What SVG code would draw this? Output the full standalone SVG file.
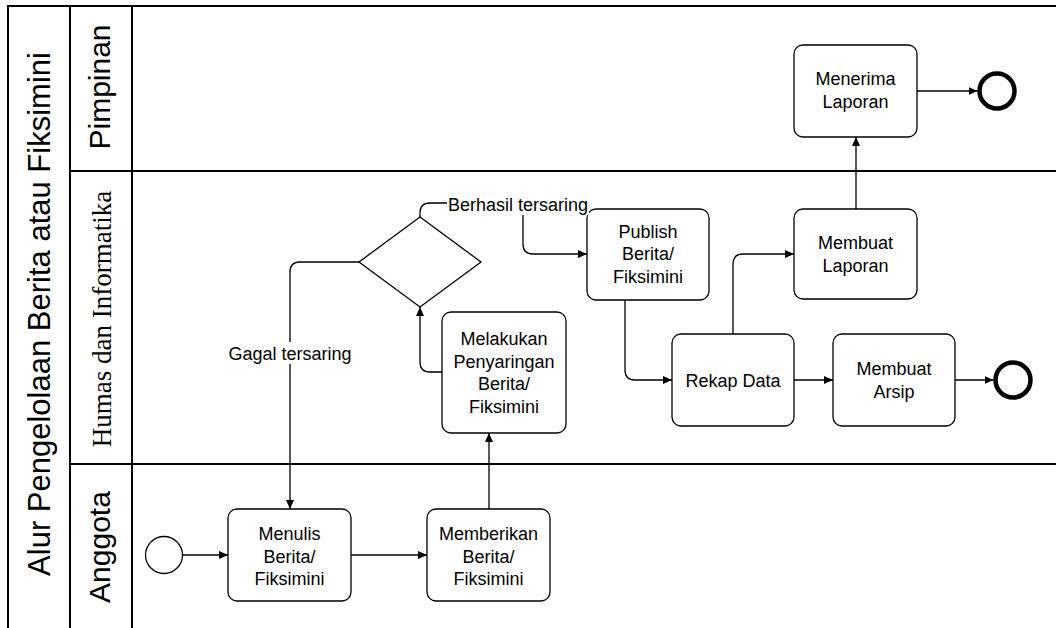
<svg xmlns="http://www.w3.org/2000/svg" width="1056" height="628" viewBox="0 0 1056 628">
  <style>
    .lane { stroke: #000; stroke-width: 2; fill: none; }
    .task { fill: #fff; stroke: #000; stroke-width: 1.3; }
    .t { font-family: "Liberation Sans", Arial, sans-serif; font-size: 18px; fill: #000; text-anchor: middle; }
    .big { font-family: "Liberation Sans", Arial, sans-serif; font-size: 30px; fill: #000; text-anchor: middle; }
    .title { font-size: 31px; }
    .serif { font-family: "Liberation Serif", "Times New Roman", serif; font-size: 27px; fill: #000; text-anchor: middle; }
    .edge { fill: none; stroke: #000; stroke-width: 1.3; marker-end: url(#arr); }
    .lbl { fill: #fff; }
  </style>
  <defs>
    <marker id="arr" markerUnits="userSpaceOnUse" markerWidth="9" markerHeight="9" viewBox="0 0 9 9" refX="9" refY="4.5" orient="auto">
      <path d="M0,0.5 L9,4.5 L0,8.5 z" fill="#000"/>
    </marker>
  </defs>

  <rect width="1056" height="628" fill="#fff"/>

  <!-- pool and lanes -->
  <g id="pool">
    <path class="lane" d="M8,628 V6 H1056"/>
    <path class="lane" d="M70,6 V628 M132,6 V628"/>
    <path class="lane" d="M70,171 H1056 M70,464 H1056"/>
    <text class="big title" transform="translate(49.5,314) rotate(-90)">Alur Pengelolaan Berita atau Fiksimini</text>
    <text class="big" transform="translate(110,87) rotate(-90)">Pimpinan</text>
    <text class="serif" transform="translate(111,319) rotate(-90)">Humas dan Informatika</text>
    <text class="big" transform="translate(110,547) rotate(-90)">Anggota</text>
  </g>

  <!-- connectors -->
  <g id="connectors">
    <path class="edge" d="M182.5,555 H228"/>
    <path class="edge" d="M351,555 H427"/>
    <path class="edge" d="M489,509 V433"/>
    <path class="edge" d="M442,372 H430 Q420,372 420,362 V307"/>
    <path class="edge" d="M359,262 H300 Q290,262 290,272 V509"/>
    <path class="edge" d="M420,217 V213 Q420,203 430,203 H513 Q523,203 523,213 V244 Q523,254 533,254 H587"/>
    <path class="edge" d="M625,300 V370 Q625,380 635,380 H672"/>
    <path class="edge" d="M733,334 V264 Q733,254 743,254 H794"/>
    <path class="edge" d="M856,209 V137"/>
    <path class="edge" d="M794,380 H833"/>
    <path class="edge" d="M955,380 H993.5"/>
    <path class="edge" d="M917,91 H977.5"/>
  </g>

  <!-- edge labels -->
  <g id="label-gagal">
    <rect class="lbl" x="228" y="342" width="124" height="22"/>
    <text class="t" x="290" y="360">Gagal tersaring</text>
  </g>

  <!-- Anggota lane -->
  <g id="start">
    <circle cx="164" cy="555" r="18.5" fill="#fff" stroke="#000" stroke-width="1.3"/>
  </g>
  <g id="menulis">
    <rect class="task" x="228" y="509" width="123" height="92" rx="9"/>
    <text class="t" x="289.5" y="540">Menulis</text>
    <text class="t" x="289.5" y="562.5">Berita/</text>
    <text class="t" x="289.5" y="585">Fiksimini</text>
  </g>
  <g id="memberikan">
    <rect class="task" x="427" y="509" width="123" height="92" rx="9"/>
    <text class="t" x="488.5" y="540">Memberikan</text>
    <text class="t" x="488.5" y="562.5">Berita/</text>
    <text class="t" x="488.5" y="585">Fiksimini</text>
  </g>

  <!-- Humas dan Informatika lane -->
  <g id="penyaringan">
    <rect class="task" x="442" y="312" width="124" height="121" rx="9"/>
    <text class="t" x="504" y="345">Melakukan</text>
    <text class="t" x="504" y="367.5">Penyaringan</text>
    <text class="t" x="504" y="390">Berita/</text>
    <text class="t" x="504" y="412.5">Fiksimini</text>
  </g>
  <g id="gateway">
    <path d="M420,217 L481,262 L420,307 L359,262 Z" fill="#fff" stroke="#000" stroke-width="1.3"/>
  </g>
  <g id="publish">
    <rect class="task" x="587" y="209" width="122" height="91" rx="9"/>
    <text class="t" x="648" y="237.5">Publish</text>
    <text class="t" x="648" y="260">Berita/</text>
    <text class="t" x="648" y="282.5">Fiksimini</text>
  </g>
  <g id="rekap">
    <rect class="task" x="672" y="334" width="122" height="92" rx="9"/>
    <text class="t" x="733" y="386.5">Rekap Data</text>
  </g>
  <g id="arsip">
    <rect class="task" x="833" y="334" width="122" height="92" rx="9"/>
    <text class="t" x="894" y="375">Membuat</text>
    <text class="t" x="894" y="397.5">Arsip</text>
  </g>
  <g id="end-arsip">
    <circle cx="1013" cy="380" r="17.5" fill="#fff" stroke="#000" stroke-width="4.5"/>
  </g>
  <g id="laporan">
    <rect class="task" x="794" y="209" width="123" height="90" rx="9"/>
    <text class="t" x="855.5" y="249">Membuat</text>
    <text class="t" x="855.5" y="271.5">Laporan</text>
  </g>

  <!-- Pimpinan lane -->
  <g id="menerima">
    <rect class="task" x="794" y="45" width="123" height="92" rx="9"/>
    <text class="t" x="855.5" y="85">Menerima</text>
    <text class="t" x="855.5" y="107.5">Laporan</text>
  </g>
  <g id="end-laporan">
    <circle cx="997" cy="91" r="17.5" fill="#fff" stroke="#000" stroke-width="4.5"/>
  </g>

  <g id="label-berhasil">
    <rect class="lbl" x="447" y="195" width="142" height="20"/>
    <text class="t" x="518" y="211">Berhasil tersaring</text>
  </g>
</svg>
